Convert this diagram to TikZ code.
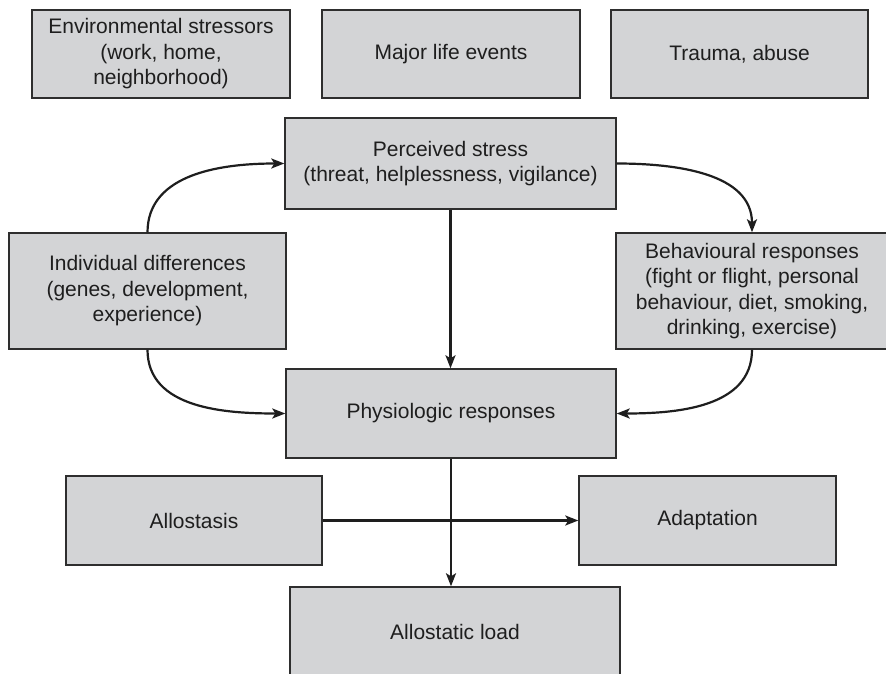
\documentclass[tikz,border=0pt]{standalone}
\usepackage{fontspec}
\setmainfont{Liberation Sans}
\usetikzlibrary{arrows.meta}
\definecolor{boxfill}{HTML}{D3D4D6}
\definecolor{boxline}{HTML}{2E2E2E}
\definecolor{ink}{HTML}{1E1E1E}
\begin{document}
\begin{tikzpicture}[x=1pt,y=-1pt,
  panel/.style={draw=boxline, fill=boxfill, line width=1.4pt, inner sep=0pt,
    align=center, text=ink, font=\fontsize{21}{25.5}\selectfont},
  link/.style={draw=ink, line width=2.2pt,
    -{Stealth[length=13pt,width=10pt,inset=3pt]}}]
\useasboundingbox (0,0) rectangle (886,674);

% stressors
\node[panel, minimum width=258pt, minimum height=88pt] (env) at (161,54)
  {Environmental stressors\\(work, home,\\neighborhood)};
\node[panel, minimum width=258pt, minimum height=88pt] (major) at (451,54)
  {Major life events};
\node[panel, minimum width=257pt, minimum height=88pt] (trauma) at (739.5,54)
  {Trauma, abuse};

% appraisal and responses
\node[panel, minimum width=331pt, minimum height=91pt] (perc) at (450.5,163.5)
  {Perceived stress\\(threat, helplessness, vigilance)};
\node[panel, minimum width=277pt, minimum height=116pt] (ind) at (147.5,291)
  {Individual differences\\(genes, development,\\experience)};
\node[panel, minimum width=272pt, minimum height=116pt] (beh) at (752,291)
  {Behavioural responses\\(fight or flight, personal\\behaviour, diet, smoking,\\drinking, exercise)};
\node[panel, minimum width=330pt, minimum height=89pt] (phys) at (451,413.5)
  {Physiologic responses};

% outcomes
\node[panel, minimum width=256pt, minimum height=89pt] (allo) at (194,520.5)
  {Allostasis};
\node[panel, minimum width=257pt, minimum height=89pt] (adapt) at (707.5,520.5)
  {Adaptation};
\node[panel, minimum width=330pt, minimum height=90pt] (load) at (455,632)
  {Allostatic load};

% connectors
\draw[link] (ind.north) to[out=90,in=180] (perc.west);
\draw[link] (ind.south) to[out=-90,in=180] (phys.west);
\draw[link] (perc.east) to[out=0,in=90] (beh.north);
\draw[link] (beh.south) to[out=-90,in=0] (phys.east);
\draw[link] (perc.south) -- (perc.south |- phys.north);
\draw[link] (allo.east) -- (adapt.west);
\draw[link] (phys.south) -- (phys.south |- load.north);
\end{tikzpicture}
\end{document}
